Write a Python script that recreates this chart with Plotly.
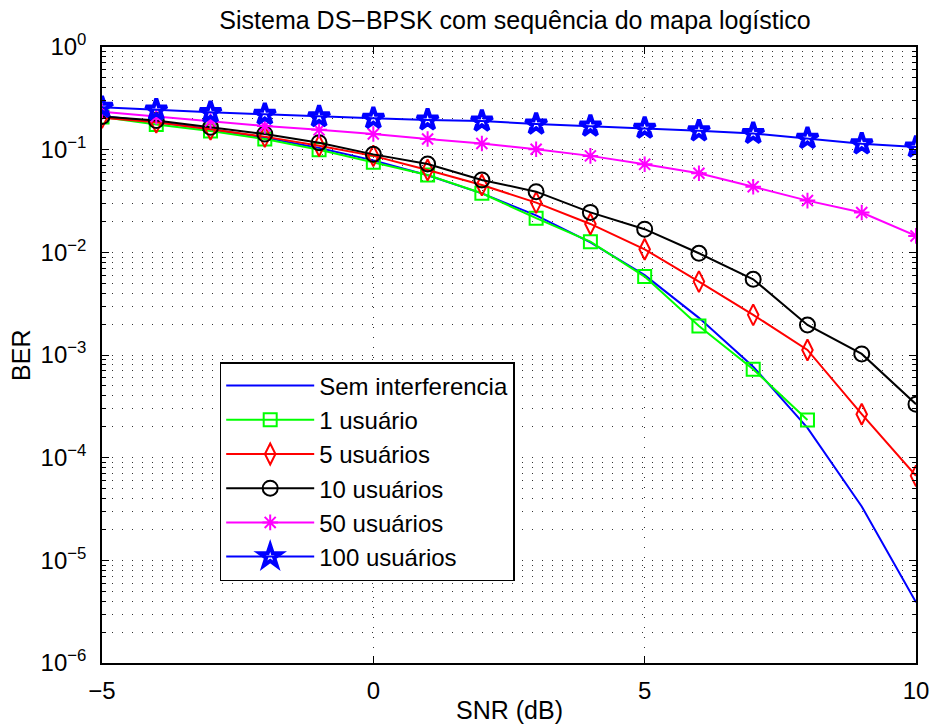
import plotly.graph_objects as go

snr = [-5, -4, -3, -2, -1, 0, 1, 2, 3, 4, 5, 6, 7, 8, 9, 10]
snr_1u = [-5, -4, -3, -2, -1, 0, 1, 2, 3, 4, 5, 6, 7, 8]

ber_sem = [0.213, 0.186, 0.158, 0.131, 0.104, 0.0786, 0.0563, 0.0375, 0.0229, 0.0125,
           0.0060, 0.0023, 0.00077, 0.000195, 0.0000335, 0.0000039]
ber_1u = [0.208, 0.176, 0.152, 0.127, 0.100, 0.0755, 0.0567, 0.0376, 0.0215, 0.0127,
          0.0058, 0.00192, 0.000727, 0.000233]
ber_5u = [0.205, 0.185, 0.158, 0.134, 0.109, 0.087, 0.0634, 0.0453, 0.0305, 0.0189,
          0.0107, 0.00519, 0.00246, 0.00112, 0.000265, 0.0000665]
ber_10u = [0.21, 0.192, 0.165, 0.142, 0.117, 0.090, 0.0726, 0.0507, 0.039, 0.0245,
           0.0168, 0.0098, 0.00547, 0.00196, 0.001025, 0.000332]
ber_50u = [0.234, 0.21, 0.19, 0.17, 0.156, 0.142, 0.127, 0.115, 0.101, 0.087,
           0.072, 0.0589, 0.0436, 0.0319, 0.0244, 0.01445]
ber_100u = [0.259, 0.244, 0.231, 0.221, 0.21, 0.202, 0.195, 0.19, 0.178, 0.170,
            0.162, 0.153, 0.144, 0.129, 0.114, 0.106]

names = ["Sem interferencia", "1 usuário", "5 usuários", "10 usuários",
         "50 usuários", "100 usuários"]

y_tickvals = [1e-6, 1e-5, 1e-4, 1e-3, 1e-2, 1e-1, 1e0]
y_ticktext = ["10<sup>−6</sup>", "10<sup>−5</sup>", "10<sup>−4</sup>", "10<sup>−3</sup>",
              "10<sup>−2</sup>", "10<sup>−1</sup>", "10<sup>0</sup>"]
x_tickvals = [-5, 0, 5, 10]
x_ticktext = ["−5", "0", "5", "10"]

FONT = "Liberation Sans, Arial, Helvetica, sans-serif"

fig = go.Figure()
fig.add_trace(go.Scatter(x=snr, y=ber_sem, mode="lines", name=names[0],
                         line=dict(color="#0000FF", width=2)))
fig.add_trace(go.Scatter(x=snr_1u, y=ber_1u, mode="lines+markers", name=names[1],
                         line=dict(color="#00FF00", width=2),
                         marker=dict(symbol="square-open", size=13,
                                     line=dict(color="#00FF00", width=2))))
fig.add_trace(go.Scatter(x=snr, y=ber_5u, mode="lines+markers", name=names[2],
                         line=dict(color="#FF0000", width=2),
                         marker=dict(symbol="diamond-tall-open", size=15,
                                     line=dict(color="#FF0000", width=2))))
fig.add_trace(go.Scatter(x=snr, y=ber_10u, mode="lines+markers", name=names[3],
                         line=dict(color="#000000", width=2),
                         marker=dict(symbol="circle-open", size=15,
                                     line=dict(color="#000000", width=2))))
fig.add_trace(go.Scatter(x=snr, y=ber_50u, mode="lines+markers", name=names[4],
                         line=dict(color="#FF00FF", width=2),
                         marker=dict(symbol="asterisk-open", size=13,
                                     line=dict(color="#FF00FF", width=2))))
fig.add_trace(go.Scatter(x=snr, y=ber_100u, mode="lines+markers", name=names[5],
                         line=dict(color="#0000FF", width=2),
                         marker=dict(symbol="star-open", size=16,
                                     line=dict(color="#0000FF", width=4))))

grid_dash = "1px,9px"
fig.update_xaxes(range=[-5, 10], tickvals=x_tickvals, ticktext=x_ticktext,
                 showline=True, linecolor="black", linewidth=1.5, mirror="allticks",
                 ticks="inside", ticklen=7, tickcolor="black", tickwidth=1,
                 ticklabelstandoff=5,
                 showgrid=True, gridcolor="#333333", gridwidth=1, griddash=grid_dash,
                 zeroline=False, tickfont=dict(size=24, color="black", family=FONT))
fig.update_yaxes(type="log", range=[-6, 0], tickvals=y_tickvals, ticktext=y_ticktext,
                 showline=True, linecolor="black", linewidth=1.5, mirror="allticks",
                 ticks="inside", ticklen=7, tickcolor="black", tickwidth=1,
                 ticklabelstandoff=9,
                 showgrid=True, gridcolor="#333333", gridwidth=1, griddash=grid_dash,
                 zeroline=False, tickfont=dict(size=24, color="black", family=FONT),
                 minor=dict(dtick="D1", ticks="inside", ticklen=4, tickcolor="black",
                            showgrid=True, gridcolor="#333333", gridwidth=1,
                            griddash=grid_dash))

fig.update_layout(
    width=941, height=728,
    margin=dict(l=102, r=16, t=47, b=65),
    paper_bgcolor="white", plot_bgcolor="white",
    font=dict(family=FONT, size=24, color="black"),
    title=dict(text="Sistema DS−BPSK com sequência do mapa logístico",
               x=515 / 941, xanchor="center", y=1 - 20 / 728, yanchor="middle",
               font=dict(size=25, color="black", family=FONT)),
    showlegend=True,
    legend=dict(x=(221 - 102) / 823, y=(663 - 362) / 616, xanchor="left", yanchor="top",
                bgcolor="white", bordercolor="black", borderwidth=1.5,
                font=dict(size=24, color="black", family=FONT),
                itemwidth=88, tracegroupgap=0),
    annotations=[
        dict(text="SNR (dB)", x=0.5, y=(663 - 726) / 616, xref="paper", yref="paper",
             xanchor="center", yanchor="bottom", showarrow=False,
             font=dict(size=25, color="black", family=FONT)),
        dict(text="BER", x=(20 - 102) / 823, y=0.5, xref="paper", yref="paper",
             xanchor="center", yanchor="middle", showarrow=False, textangle=-90,
             font=dict(size=25, color="black", family=FONT)),
    ],
)

fig.write_html("out.html",
               config={"displayModeBar": False},
               post_script="document.body.style.margin='0px';"
                           "document.body.style.overflow='hidden';")
